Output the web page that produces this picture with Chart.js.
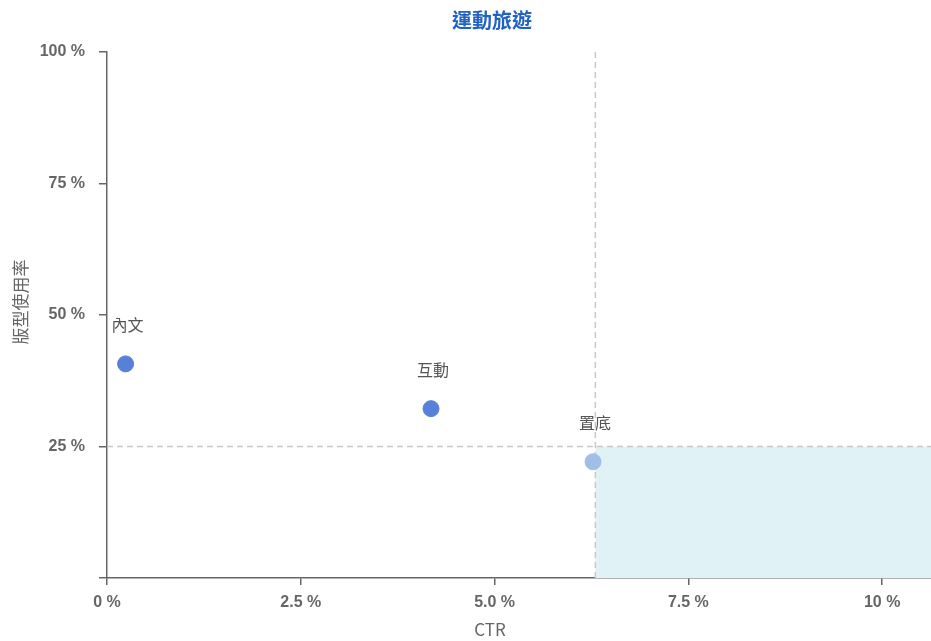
<!DOCTYPE html>
<html>
<head>
<meta charset="utf-8">
<script src="https://cdn.jsdelivr.net/npm/chart.js@4"></script>
<style>
  html, body { margin: 0; padding: 0; background: #fff; }
  #wrap { width: 931px; height: 641px; }
</style>
</head>
<body>
<div id="wrap"><canvas id="chart" width="931" height="641"></canvas></div>
<script>
var chartTitle = '運動旅遊';
var xAxisTitle = 'CTR';
var yAxisTitle = '版型使用率';
var formats = ['內文', '互動', '置底'];
var ctrValues = [0.24, 4.18, 6.27];
var usageValues = [40.7, 32.2, 22.1];
var pointColors = ['#5781d8', '#5781d8', '#a1bfe6'];
var xTickValues = [0, 2.5, 5, 7.5, 10];
var xTickLabels = ['0 %', '2.5 %', '5.0 %', '7.5 %', '10 %'];
var yTickValues = [0, 25, 50, 75, 100];
var yTickLabels = ['', '25 %', '50 %', '75 %', '100 %'];
var ctrThreshold = 6.3;
var usageThreshold = 25;

var cjk = '"Noto Sans CJK TC", "Noto Sans", sans-serif';
var latin = '"Liberation Sans", Arial, sans-serif';

var quadrantPlugin = {
  id: 'quadrant',
  beforeDatasetsDraw: function(chart) {
    var ctx = chart.ctx, area = chart.chartArea;
    var xs = chart.scales.x, ys = chart.scales.y;
    var vx = xs.getPixelForValue(ctrThreshold);
    var hy = ys.getPixelForValue(usageThreshold);
    ctx.save();
    ctx.fillStyle = '#e1f2f7';
    ctx.fillRect(vx, hy, area.right - vx, area.bottom - hy);
    ctx.strokeStyle = '#c8c8c8';
    ctx.lineWidth = 1.5;
    ctx.setLineDash([6, 4]);
    ctx.beginPath();
    ctx.moveTo(vx, area.top);
    ctx.lineTo(vx, area.bottom);
    ctx.moveTo(area.left, hy);
    ctx.lineTo(area.right, hy);
    ctx.stroke();
    ctx.restore();
  },
  afterDatasetsDraw: function(chart) {
    var ctx = chart.ctx;
    var meta = chart.getDatasetMeta(0);
    ctx.save();
    ctx.font = '16px ' + cjk;
    ctx.fillStyle = '#555';
    ctx.textAlign = 'center';
    ctx.textBaseline = 'middle';
    meta.data.forEach(function(pt, i) {
      ctx.fillText(formats[i], pt.x + 2, pt.y - 39);
    });
    ctx.font = 'bold 20px ' + cjk;
    ctx.fillStyle = '#2263c2';
    ctx.fillText(chartTitle, 492, 20);
    // axis titles
    ctx.font = '17px ' + cjk;
    ctx.fillStyle = '#666';
    ctx.fillText(xAxisTitle, 490, 630);
    ctx.translate(21, 302);
    ctx.rotate(-Math.PI / 2);
    ctx.fillText(yAxisTitle, 0, 0);
    ctx.restore();
  }
};

var ctx = document.getElementById('chart').getContext('2d');
var chart = new Chart(ctx, {
  type: 'scatter',
  data: {
    datasets: [{
      data: ctrValues.map(function(v, i) { return { x: v, y: usageValues[i] }; }),
      backgroundColor: pointColors,
      borderColor: pointColors,
      pointRadius: 8,
      pointHoverRadius: 8
    }]
  },
  options: {
    responsive: false,
    animation: false,
    layout: { autoPadding: false, padding: { top: 52, left: 0, right: 0, bottom: 0 } },
    plugins: {
      legend: { display: false },
      tooltip: { enabled: false }
    },
    scales: {
      x: {
        type: 'linear',
        min: 0,
        max: 10.63,
        afterBuildTicks: function(s) { s.ticks = xTickValues.map(function(v) { return { value: v }; }); },
        afterFit: function(s) { s.height = 63; s.paddingLeft = 0; s.paddingRight = 0; },
        grid: { drawOnChartArea: false, tickLength: 7, color: '#666', lineWidth: 1.5 },
        border: { color: '#666', width: 1.5 },
        ticks: {
          padding: 8,
          color: '#666',
          font: { family: latin, size: 16, weight: 'bold' },
          callback: function(v) { return xTickLabels[xTickValues.indexOf(v)]; }
        },
        title: { display: false }
      },
      y: {
        type: 'linear',
        min: 0,
        max: 100,
        afterBuildTicks: function(s) { s.ticks = yTickValues.map(function(v) { return { value: v }; }); },
        afterFit: function(s) { s.width = 107; s.paddingTop = 0; s.paddingBottom = 0; },
        grid: { drawOnChartArea: false, tickLength: 8, color: '#666', lineWidth: 1.5 },
        border: { color: '#666', width: 1.5 },
        ticks: {
          padding: 14,
          color: '#666',
          font: { family: latin, size: 16, weight: 'bold' },
          callback: function(v) { return yTickLabels[yTickValues.indexOf(v)]; }
        },
        title: { display: false }
      }
    }
  },
  plugins: [quadrantPlugin]
});
</script>
</body>
</html>
